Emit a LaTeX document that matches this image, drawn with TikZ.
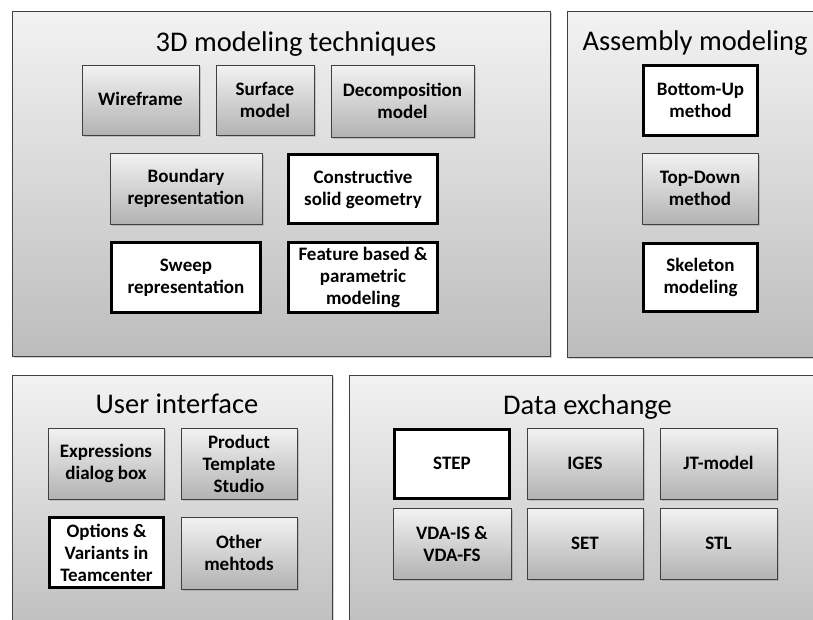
\documentclass[tikz,border=0pt]{standalone}
\usepackage{fontspec}
\setmainfont{Carlito}
\usetikzlibrary{shadows}
\tikzset{
  softshadow/.style={drop shadow={shadow xshift=1.5pt,shadow yshift=-1.5pt,opacity=0.35}},
  panel/.style={draw=black!75, line width=0.9pt, top color=black!5, bottom color=black!26,
    softshadow, inner sep=0pt},
  gbox/.style={draw=black!75, line width=0.9pt, top color=black!5, bottom color=black!30,
    softshadow, font=\fontsize{19}{22}\selectfont\bfseries, align=center, inner sep=1pt},
  wbox/.style={draw=black, line width=3pt, fill=white,
    softshadow, font=\fontsize{19}{22}\selectfont\bfseries, align=center, inner sep=1pt},
  oneline/.style={text height=13pt, text depth=1.5pt},
  ptitle/.style={font=\fontsize{28.5}{32}\selectfont, anchor=base, inner sep=0pt},
  sz/.style 2 args={minimum width=#1pt, minimum height=#2pt},
}
\begin{document}
\begin{tikzpicture}[x=1pt,y=-1pt]
\useasboundingbox (0,0) rectangle (813,619);
\clip (0,0) rectangle (813,619);
\fill[white] (0,0) rectangle (813,619);

% group panels
\node[panel, sz={538}{345}] (p3d)  at (281,183.5) {};
\node[panel, sz={263}{346}] (pasm) at (698.5,184) {};
\node[panel, sz={320}{265}] (pui)  at (172,507.5) {};
\node[panel, sz={481}{265}] (pdx)  at (589.5,507.5) {};

% panel titles
\node[ptitle] (t3d)  at (296,51)  {3D modeling techniques};
\node[ptitle] (tasm) at (695,50)  {Assembly modeling};
\node[ptitle] (tui)  at (177,413) {User interface};
\node[ptitle] (tdx)  at (587.5,414) {Data exchange};

% 3D modeling techniques
\node[gbox, oneline, sz={117}{70}] (wire) at (140.5,100) {Wireframe};
\node[gbox, sz={98}{70}]  (surf)   at (265,100)   {Surface\\model};
\node[gbox, sz={143}{72}] (decomp) at (402.5,101) {Decomposition\\model};
\node[gbox, sz={152}{71}] (brep)   at (186,188.5) {Boundary\\representation};
\node[wbox, sz={149}{69}] (csg)    at (363,189)   {Constructive\\solid geometry};
\node[wbox, sz={149}{70}] (sweep)  at (186,277.5) {Sweep\\representation};
\node[wbox, sz={149}{70}] (feat)   at (363,277.5) {Feature based \&\\parametric\\modeling};

% Assembly modeling
\node[wbox, sz={114}{70}] (bup)  at (700.5,100.5) {Bottom-Up\\method};
\node[gbox, sz={116}{71}] (tdown) at (700,188.5)  {Top-Down\\method};
\node[wbox, sz={114}{68}] (skel) at (700.5,277.5) {Skeleton\\modeling};

% User interface
\node[gbox, sz={116}{71}] (expr)  at (106,463.5)  {Expressions\\dialog box};
\node[gbox, sz={116}{71}] (pts)   at (239,463.5)  {Product\\Template\\Studio};
\node[wbox, sz={114}{70}] (opt)   at (106.5,552.5) {Options \&\\Variants in\\Teamcenter};
\node[gbox, sz={116}{72}] (other) at (239,553)    {Other\\mehtods};

% Data exchange
\node[wbox, oneline, sz={115}{69}] (step) at (452,464)     {STEP};
\node[gbox, oneline, sz={116}{71}] (iges) at (585,463.5)   {IGES};
\node[gbox, oneline, sz={117}{71}] (jt)   at (718.5,463.5) {JT-model};
\node[gbox, sz={118}{71}] (vda)  at (452,543.5)   {VDA-IS \&\\VDA-FS};
\node[gbox, oneline, sz={116}{71}] (set)  at (585,543.5)   {SET};
\node[gbox, oneline, sz={117}{71}] (stl)  at (718.5,543.5) {STL};
\end{tikzpicture}
\end{document}
